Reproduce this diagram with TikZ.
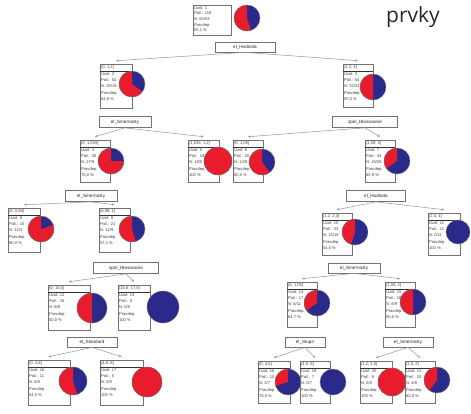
\documentclass[tikz,border=0pt]{standalone}
\usepackage{fontspec}
\setmainfont{Liberation Sans}
\newfontfamily\titlefont{Open Sans}
\usetikzlibrary{arrows.meta}
\definecolor{pred}{RGB}{232,28,44}
\definecolor{pblue}{RGB}{42,42,140}
\definecolor{connc}{RGB}{125,155,185}
\definecolor{boxl}{RGB}{115,115,115}
\tikzset{
  tbox/.style={draw=boxl, line width=0.6pt, fill=white, inner sep=0pt},
  txt/.style={inner sep=0pt, align=left, font=\fontsize{4.1}{6.2}\selectfont, text=black!75},
  slabel/.style={draw=boxl, line width=0.7pt, fill=white, inner sep=0pt, font=\fontsize{4.6}{5}\selectfont, text=black!85},
  cn/.style={draw=connc, line width=0.5pt, -{Stealth[length=2.6pt,width=2.4pt]}},
  sepline/.style={draw=black!80, line width=0.9pt},
}
% pie: x y r redfraction
\newcommand\piechart[4]{%
  \fill[pblue] (#1,-#2) circle[radius=#3pt];
  \pgfmathsetmacro\pend{90+360*#4}
  \fill[pred] (#1,-#2) -- ++(90:#3pt) arc[start angle=90, end angle=\pend, radius=#3pt] -- cycle;
  \draw[black!55, line width=0.4pt] (#1,-#2) circle[radius=#3pt];
}
% box: name x y w h title body
\newcommand\tb[7]{%
  \node[tbox, minimum width=#4pt, minimum height=#5pt] (#1) at (#2,-#3) {};
  \node[txt, anchor=north west] (#1t) at ([xshift=1.2pt,yshift=-1.2pt]#1.north west) {#6\\[1.2pt]#7};
  \draw[sepline] ([yshift=-7.6pt]#1.north west) -- ([yshift=-7.6pt]#1.north east);
}
\begin{document}
\begin{tikzpicture}[x=1pt,y=1pt]
\useasboundingbox (0,0) rectangle (471,-413);
\fill[white] (0,0) rectangle (471,-413);

\node[font=\titlefont\fontsize{21}{24}\selectfont, text=black!85, inner sep=0pt] (title) at (413,-17) {prvky};

% root
\node[tbox, minimum width=38pt, minimum height=30pt] (n0) at (212,-20) {};
\node[txt, anchor=north west, font=\fontsize{4.1}{5.6}\selectfont] (n0t) at ([xshift=1.2pt,yshift=-1.5pt]n0.north west) {Uzol: 1\\Poč.: 118\\N: 65/53\\Pravdep.\\55,1 \%};
\piechart{247}{18}{13}{0.55}

% level 1
\tb{n1}{116}{86}{32}{44}{(0; 1,2]}{Uzol: 2\\Poč.: 54\\N: 35/19\\Pravdep.\\64,8 \%}
\piechart{132}{84}{13}{0.65}
\tb{n2}{358}{85.5}{30}{43}{(1,2; 4]}{Uzol: 3\\Poč.: 64\\N: 32/32\\Pravdep.\\50,0 \%}
\piechart{373}{87}{13}{0.5}

% level 2
\tb{n3}{95}{161}{30}{42}{(0; 1,035]}{Uzol: 4\\Poč.: 36\\N: 27/9\\Pravdep.\\75,0 \%}
\piechart{111}{161}{13}{0.75}
\tb{n4}{203.5}{161}{31}{42}{(1,035; 1,2]}{Uzol: 5\\Poč.: 18\\N: 18/0\\Pravdep.\\100 \%}
\piechart{218}{161}{14}{1}
\tb{n5}{248}{161}{30}{42}{(0; 1,09]}{Uzol: 6\\Poč.: 20\\N: 12/8\\Pravdep.\\60,0 \%}
\piechart{262}{162}{13}{0.6}
\tb{n6}{380}{161}{30}{42}{(1,09; 4]}{Uzol: 7\\Poč.: 44\\N: 15/29\\Pravdep.\\65,9 \%}
\piechart{397}{161}{13}{0.35}

% level 3
\tb{n7}{24}{230}{32}{44}{(0; 0,98]}{Uzol: 8\\Poč.: 15\\N: 12/3\\Pravdep.\\80,0 \%}
\piechart{41}{229}{13}{0.8}
\tb{n8}{114.5}{230}{31}{44}{(0,98; 1]}{Uzol: 9\\Poč.: 21\\N: 12/9\\Pravdep.\\57,1 \%}
\piechart{132}{229}{13}{0.55}
\tb{n9}{337}{234}{30}{42}{(1,2; 2,4]}{Uzol: 10\\Poč.: 33\\N: 15/18\\Pravdep.\\54,5 \%}
\piechart{355}{232}{13}{0.45}
\tb{n10}{444}{234}{32}{42}{(2,4; 4]}{Uzol: 11\\Poč.: 11\\N: 0/11\\Pravdep.\\100 \%}
\piechart{458}{232}{12}{0}

% level 4
\tb{n11}{69}{307.5}{42}{45}{(0; 15,6]}{Uzol: 12\\Poč.: 16\\N: 8/8\\Pravdep.\\50,0 \%}
\piechart{92}{308}{15}{0.5}
\tb{n12}{134}{307.5}{32}{45}{(15,6; 17,0]}{Uzol: 13\\Poč.: 5\\N: 0/5\\Pravdep.\\100 \%}
\piechart{163}{307}{16}{0}
\tb{n13}{302}{304.5}{30}{45}{(0; 1,05]}{Uzol: 14\\Poč.: 17\\N: 6/11\\Pravdep.\\64,7 \%}
\piechart{317}{303}{13}{0.35}
\tb{n14}{400}{304.5}{30}{45}{(1,05; 2]}{Uzol: 15\\Poč.: 16\\N: 8/8\\Pravdep.\\50,0 \%}
\piechart{413}{302}{13}{0.5}

% level 5
\tb{n15}{49}{382.5}{42}{45}{(0; 4,8]}{Uzol: 16\\Poč.: 11\\N: 6/5\\Pravdep.\\54,5 \%}
\piechart{73}{381}{14}{0.55}
\tb{n16}{121.5}{382.5}{43}{45}{(4,8; 8]}{Uzol: 17\\Poč.: 5\\N: 5/0\\Pravdep.\\100 \%}
\piechart{147}{382}{15}{1}
\tb{n17}{274}{382}{32}{42}{(0; 4,5]}{Uzol: 18\\Poč.: 10\\N: 3/7\\Pravdep.\\70,0 \%}
\piechart{288}{382}{13}{0.3}
\tb{n18}{315}{382}{30}{42}{(4,5; 8]}{Uzol: 19\\Poč.: 7\\N: 0/7\\Pravdep.\\100 \%}
\piechart{333}{382}{13}{0}
\tb{n19}{376}{382}{32}{42}{(1,2; 1,5]}{Uzol: 20\\Poč.: 6\\N: 6/0\\Pravdep.\\100 \%}
\piechart{392}{382}{14}{1}
\tb{n20}{420}{382}{30}{42}{(1,5; 2]}{Uzol: 21\\Poč.: 10\\N: 4/6\\Pravdep.\\60,0 \%}
\piechart{437}{380}{13}{0.4}

% split labels
\node[slabel, minimum width=60pt, minimum height=10pt] (s0) at (245,-47) {el\_Hodnota};
\node[slabel, minimum width=52pt, minimum height=11pt] (s1) at (125,-122) {el\_Smernosty};
\node[slabel, minimum width=65pt, minimum height=11pt] (s2) at (365,-122) {spol\_Hlasovanie};
\node[slabel, minimum width=52pt, minimum height=11pt] (s3) at (91,-196) {el\_Smernosty};
\node[slabel, minimum width=59pt, minimum height=11pt] (s6) at (376,-196) {el\_Hodnota};
\node[slabel, minimum width=65pt, minimum height=11pt] (s8) at (126,-268) {spol\_Hlasovanie};
\node[slabel, minimum width=52pt, minimum height=10pt] (s9) at (354,-268) {el\_Smernosty};
\node[slabel, minimum width=50pt, minimum height=10pt] (s11) at (92,-342) {el\_Standard};
\node[slabel, minimum width=40pt, minimum height=10pt] (s13) at (305,-342) {el\_Stupn};
\node[slabel, minimum width=50pt, minimum height=10pt] (s14) at (408,-342) {el\_Smernosty};

% connectors
\draw[cn] (s0.south) -- ([yshift=3pt]n1.north);
\draw[cn] (s0.south) -- ([yshift=3pt]n2.north);
\draw[cn] (s1.south) -- ([yshift=3pt]n3.north);
\draw[cn] (s1.south) -- ([yshift=3pt]n4.north);
\draw[cn] (s2.south) -- ([yshift=3pt]n5.north);
\draw[cn] (s2.south) -- ([yshift=3pt]n6.north);
\draw[cn] (s3.south) -- ([yshift=3pt]n7.north);
\draw[cn] (s3.south) -- ([yshift=3pt]n8.north);
\draw[cn] (s6.south) -- ([yshift=3pt]n9.north);
\draw[cn] (s6.south) -- ([yshift=3pt]n10.north);
\draw[cn] (s8.south) -- ([yshift=3pt]n11.north);
\draw[cn] (s8.south) -- ([yshift=3pt]n12.north);
\draw[cn] (s9.south) -- ([yshift=3pt]n13.north);
\draw[cn] (s9.south) -- ([yshift=3pt]n14.north);
\draw[cn] (s11.south) -- ([yshift=3pt]n15.north);
\draw[cn] (s11.south) -- ([yshift=3pt]n16.north);
\draw[cn] (s13.south) -- ([yshift=3pt]n17.north);
\draw[cn] (s13.south) -- ([yshift=3pt]n18.north);
\draw[cn] (s14.south) -- ([yshift=3pt]n19.north);
\draw[cn] (s14.south) -- ([yshift=3pt]n20.north);
\end{tikzpicture}
\end{document}
